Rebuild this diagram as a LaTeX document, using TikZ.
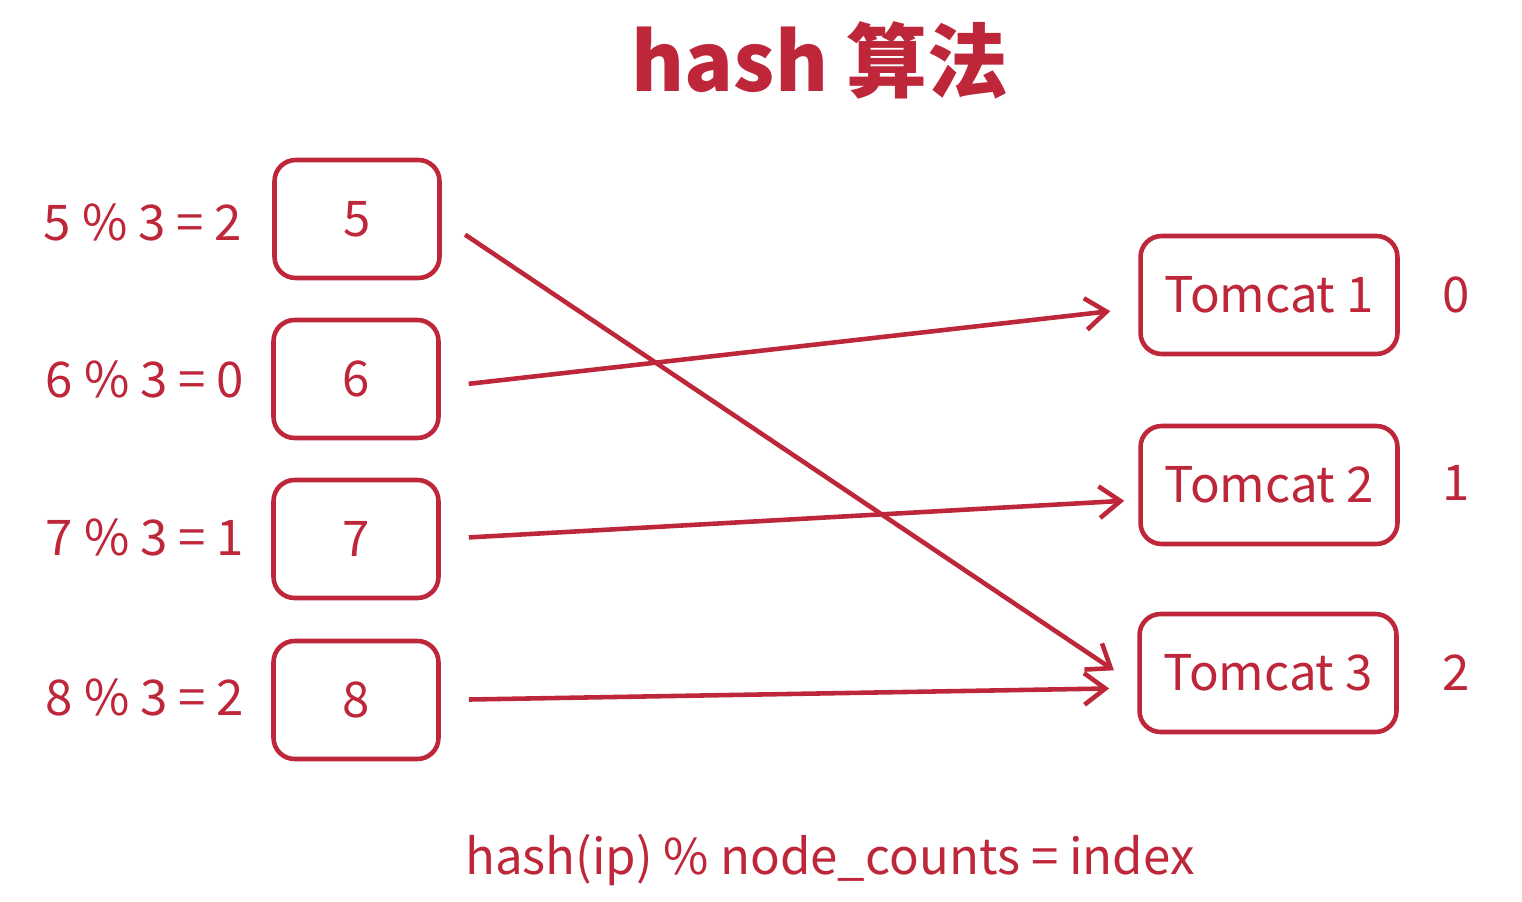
\documentclass[tikz,border=0pt]{standalone}
\usepackage{fontspec}
\setmainfont{Noto Sans CJK SC}
\usetikzlibrary{arrows.meta}
\definecolor{hashred}{RGB}{190,38,58}
\tikzset{
    box/.style={draw=hashred, line width=2.6pt, rounded corners=12pt, text=hashred,
        font=\fontsize{28}{34}\selectfont},
    lbl/.style={text=hashred, font=\fontsize{28}{34}\selectfont},
    link/.style={hashred, line width=2.6pt, -{Straight Barb[length=12pt, width=18pt, line width=2.6pt]},
        shorten <=16pt, shorten >=16pt}
}
\begin{document}
\begin{tikzpicture}[x=0.02cm, y=-0.02cm]
    \useasboundingbox (0,0) rectangle (1522,902);
    % title
    \node[text=hashred, font=\fontsize{46}{54}\selectfont\bfseries] (title) at (820,60) {hash 算法};
    % left boxes
    \node[box, minimum width=3.3cm, minimum height=2.36cm] (b5) at (357,219) {5};
    \node[box, minimum width=3.3cm, minimum height=2.36cm] (b6) at (356,379) {6};
    \node[box, minimum width=3.3cm, minimum height=2.36cm] (b7) at (356,539) {7};
    \node[box, minimum width=3.3cm, minimum height=2.36cm] (b8) at (356,700) {8};
    \node[lbl] (l5) at (143,222) {5 \% 3 = 2};
    \node[lbl] (l6) at (145,379) {6 \% 3 = 0};
    \node[lbl] (l7) at (145,537) {7 \% 3 = 1};
    \node[lbl] (l8) at (145,697) {8 \% 3 = 2};
    % right boxes
    \node[box, minimum width=5.14cm, minimum height=2.36cm] (t1) at (1269,295) {Tomcat 1};
    \node[box, minimum width=5.14cm, minimum height=2.36cm] (t2) at (1269,485) {Tomcat 2};
    \node[box, minimum width=5.14cm, minimum height=2.36cm] (t3) at (1268,673) {Tomcat 3};
    \node[lbl] (i0) at (1456,295) {0};
    \node[lbl] (i1) at (1456,483) {1};
    \node[lbl] (i2) at (1456,673) {2};
    % links
    \draw[link] (b5.east) -- ([yshift=-0.26cm]t3.west);
    \draw[link] ([yshift=-0.16cm]b6.east) -- ([yshift=-0.26cm]t1.west);
    \draw[link, shorten >=8pt] (b7.east) -- ([yshift=-0.3cm]t2.west);
    \draw[link] (b8.east) -- ([yshift=-0.3cm]t3.west);
    % formula
    \node[lbl] (formula) at (830,860) {hash(ip) \% node\_counts = index};
\end{tikzpicture}
\end{document}
